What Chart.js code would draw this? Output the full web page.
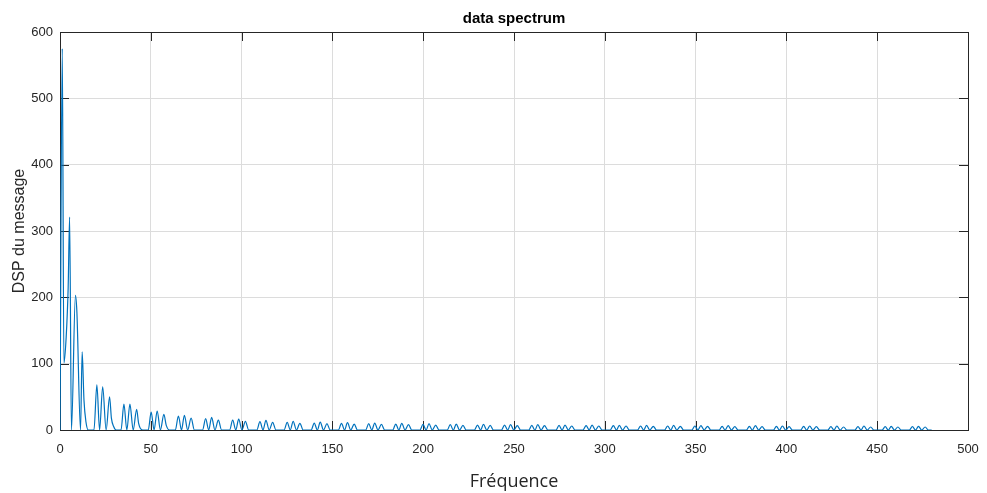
<!DOCTYPE html>
<html>
<head>
<meta charset="utf-8">
<script src="https://cdn.jsdelivr.net/npm/chart.js@4.4.1/dist/chart.umd.min.js"></script>
<style>
    html, body { margin: 0; padding: 0; background: #ffffff; }
    .spectrumChart { width: 987px; height: 493px; }
</style>
</head>
<body>
<div class="spectrumChart">
    <canvas id="dataSpectrumChart" width="987" height="493"></canvas>
</div>
<script>
// values, one group of lobes per line
const freq = [
    0, 1.25, 2.15, 3.4, 4.5, 5.3, 6.3, 8.5, 9.3, 11.3, 12.2, 13.2, 14.3, 15.6,
    18.7, 20.3, 21.8, 23.5, 25.4, 27.3, 28.3, 29.6, 31.0,
    33.6, 35.2, 36.8, 38.5, 40.3, 42.2, 43.3, 45.5,
    48.6, 50.2, 51.8, 53.5, 55.3, 57.2, 58.5, 60.3,
    63.5, 65.2, 66.9, 68.5, 70.3, 72.2, 74.0,
    78.5, 80.2, 81.9, 83.5, 85.3, 87.2, 89.0,
    93.4, 95.1, 96.8, 98.4, 100.2, 102.1, 103.9,
    108.4, 110.1, 111.8, 113.4, 115.2, 117.1, 118.9,
    123.4, 125.1, 126.8, 128.4, 130.2, 132.1, 133.9,
    138.3, 140.0, 141.7, 143.3, 145.1, 147.0, 148.8,
    153.3, 155.0, 156.7, 158.3, 160.1, 162.0, 163.8,
    168.3, 170.0, 171.7, 173.3, 175.1, 177.0, 178.8,
    183.2, 184.9, 186.6, 188.2, 190.0, 191.9, 193.7,
    198.2, 199.9, 201.6, 203.2, 205.0, 206.9, 208.7,
    213.2, 214.9, 216.6, 218.2, 220.0, 221.9, 223.7,
    228.2, 229.9, 231.6, 233.2, 235.0, 236.9, 238.7,
    243.1, 244.8, 246.5, 248.1, 249.9, 251.8, 253.6,
    258.1, 259.8, 261.5, 263.1, 264.9, 266.8, 268.6,
    273.1, 274.8, 276.5, 278.1, 279.9, 281.8, 283.6,
    288.0, 289.7, 291.4, 293.0, 294.8, 296.7, 298.5,
    303.0, 304.7, 306.4, 308.0, 309.8, 311.7, 313.5,
    318.0, 319.7, 321.4, 323.0, 324.8, 326.7, 328.5,
    332.9, 334.6, 336.3, 337.9, 339.7, 341.6, 343.4,
    347.9, 349.6, 351.3, 352.9, 354.7, 356.6, 358.4,
    362.9, 364.6, 366.3, 367.9, 369.7, 371.6, 373.4,
    377.9, 379.6, 381.3, 382.9, 384.7, 386.6, 388.4,
    392.8, 394.5, 396.2, 397.8, 399.6, 401.5, 403.3,
    407.8, 409.5, 411.2, 412.8, 414.6, 416.5, 418.3,
    422.8, 424.5, 426.2, 427.8, 429.6, 431.5, 433.3,
    437.7, 439.4, 441.1, 442.7, 444.5, 446.4, 448.2,
    452.7, 454.4, 456.1, 457.7, 459.5, 461.4, 463.2,
    467.7, 469.4, 471.1, 472.7, 474.5, 476.4, 478.2, 480.0
];
const dsp = [
    0, 575, 101, 140, 215, 321, 0, 203, 178, 0, 118, 45, 12, 0,
    0, 68, 0, 65, 0, 50, 18, 5, 0,
    0, 39, 0, 39, 0, 31, 10, 0,
    0, 27, 0, 28.5, 0, 23.5, 7, 0,
    0, 21, 0, 22, 0, 18, 0,
    0, 17, 0, 19, 0, 15, 0,
    0, 15, 0, 16.5, 0, 13, 0,
    0, 12.5, 0, 14.5, 0, 11.5, 0,
    0, 11.5, 0, 13, 0, 10, 0,
    0, 10.5, 0, 12, 0, 9.5, 0,
    0, 10, 0, 11, 0, 9, 0,
    0, 9.5, 0, 10.5, 0, 8.5, 0,
    0, 9, 0, 10, 0, 8, 0,
    0, 8.5, 0, 9.5, 0, 7.5, 0,
    0, 8, 0, 9, 0, 7, 0,
    0, 7.5, 0, 8.5, 0, 7, 0,
    0, 7.5, 0, 8, 0, 6.5, 0,
    0, 7, 0, 8, 0, 6.5, 0,
    0, 7, 0, 7.5, 0, 6, 0,
    0, 6.5, 0, 7.5, 0, 6, 0,
    0, 6.5, 0, 7, 0, 6, 0,
    0, 6, 0, 7, 0, 5.5, 0,
    0, 6, 0, 7, 0, 5.5, 0,
    0, 6, 0, 6.5, 0, 5.5, 0,
    0, 5.5, 0, 6.5, 0, 5, 0,
    0, 5.5, 0, 6.5, 0, 5, 0,
    0, 5.5, 0, 6, 0, 5, 0,
    0, 5.5, 0, 6, 0, 5, 0,
    0, 5, 0, 6, 0, 4.5, 0,
    0, 5, 0, 6, 0, 4.5, 0,
    0, 5, 0, 5.5, 0, 4.5, 0,
    0, 5, 0, 5.5, 0, 4.5, 0, 0
];
const xTicks = [0, 50, 100, 150, 200, 250, 300, 350, 400, 450, 500];
const yTicks = [0, 100, 200, 300, 400, 500, 600];

const axisColor = '#262626';
const gridColor = '#dcdcdc';
const tickFont = {family: '"Liberation Sans", Arial, sans-serif', size: 13};

// matlab style box with ticks pointing inwards on all four sides
const axesBox = {
    id: 'axesBox',
    beforeDatasetsDraw(chart) {
        const {ctx, chartArea: a, scales: {x, y}} = chart;
        const len = 9;
        ctx.save();
        ctx.strokeStyle = axisColor;
        ctx.lineWidth = 1;
        ctx.beginPath();
        x.ticks.forEach(t => {
            const px = Math.round(x.getPixelForValue(t.value)) + 0.5;
            ctx.moveTo(px, a.bottom);
            ctx.lineTo(px, a.bottom - len);
            ctx.moveTo(px, a.top);
            ctx.lineTo(px, a.top + len);
        });
        y.ticks.forEach(t => {
            const py = Math.round(y.getPixelForValue(t.value)) + 0.5;
            ctx.moveTo(a.left, py);
            ctx.lineTo(a.left + len, py);
            ctx.moveTo(a.right, py);
            ctx.lineTo(a.right - len, py);
        });
        ctx.stroke();
        ctx.strokeRect(Math.round(a.left) + 0.5, Math.round(a.top) + 0.5,
            Math.round(a.right) - Math.round(a.left), Math.round(a.bottom) - Math.round(a.top));
        ctx.restore();
    }
};

const points = freq.map((f, i) => ({x: f, y: dsp[i]}));

new Chart(document.getElementById('dataSpectrumChart'), {
    type: 'line',
    data: {
        datasets: [{
            data: points,
            borderColor: '#0072bd',
            borderWidth: 1.2,
            pointRadius: 0,
            fill: false,
            cubicInterpolationMode: 'monotone'
        }]
    },
    options: {
        responsive: false,
        animation: false,
        layout: {padding: {left: 0, right: 19, top: 0, bottom: 0}},
        scales: {
            x: {
                type: 'linear',
                min: 0,
                max: 500,
                afterBuildTicks: scale => { scale.ticks = xTicks.map(v => ({value: v})); },
                afterFit: scale => {
                    scale.height = 63;
                    scale.paddingLeft = 0;
                    scale.paddingRight = 0;
                },
                ticks: {color: axisColor, font: tickFont, padding: 12, maxRotation: 0},
                grid: {color: gridColor, drawTicks: false},
                border: {display: false},
                title: {
                    display: true,
                    text: 'Fréquence',
                    color: axisColor,
                    font: {family: '"Open Sans", sans-serif', size: 18},
                    padding: {top: 0, bottom: 0}
                }
            },
            y: {
                min: 0,
                max: 600,
                afterBuildTicks: scale => { scale.ticks = yTicks.map(v => ({value: v})); },
                afterFit: scale => { scale.width = 60; },
                ticks: {color: axisColor, font: tickFont, padding: 7},
                grid: {color: gridColor, drawTicks: false},
                border: {display: false},
                title: {
                    display: true,
                    text: 'DSP du message',
                    color: axisColor,
                    font: {family: '"Liberation Sans", Arial, sans-serif', size: 16},
                    padding: {top: 10, bottom: 0}
                }
            }
        },
        plugins: {
            legend: {display: false},
            tooltip: {enabled: false},
            title: {
                display: true,
                fullSize: false,
                text: 'data spectrum',
                color: '#000000',
                font: {family: '"Liberation Sans Narrow", "Arial Narrow", "Liberation Sans", sans-serif', size: 15, weight: 'bold'},
                padding: {top: 10, bottom: 4}
            }
        }
    },
    plugins: [axesBox]
});
</script>
</body>
</html>
